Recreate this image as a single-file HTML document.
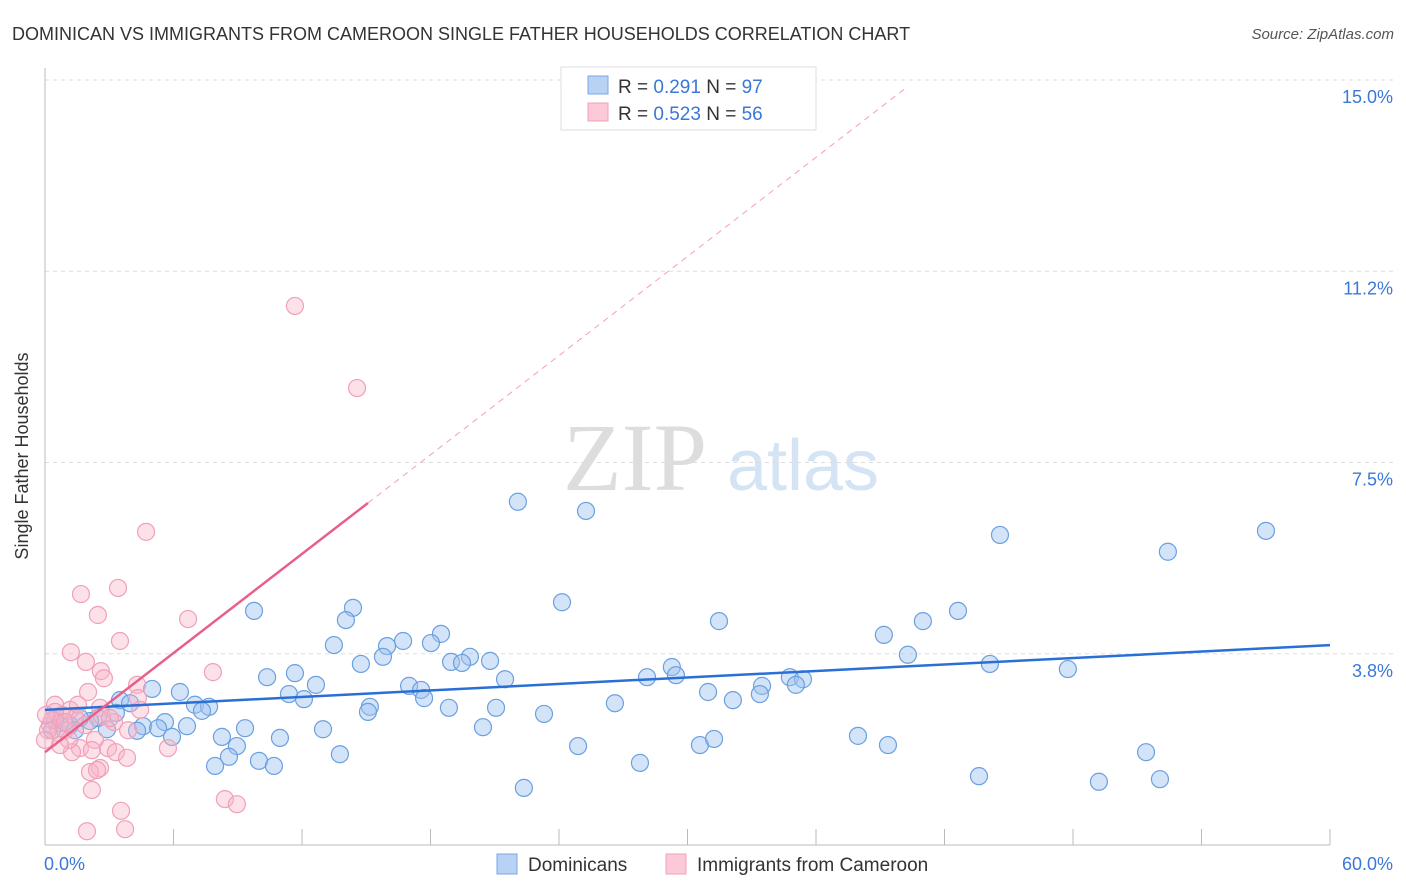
<!DOCTYPE html>
<html><head><meta charset="utf-8"><style>
body{margin:0;background:#fff;font-family:"Liberation Sans",sans-serif;}
</style></head><body>
<svg id="c" width="1406" height="892" xmlns="http://www.w3.org/2000/svg" style="display:block">
<text x="12" y="40" font-size="18" fill="#333">DOMINICAN VS IMMIGRANTS FROM CAMEROON SINGLE FATHER HOUSEHOLDS CORRELATION CHART</text>
<text x="1394" y="39" font-size="15" fill="#555" font-style="italic" text-anchor="end">Source: ZipAtlas.com</text>
<g><text x="635" y="490" font-size="96" fill="#ddd" text-anchor="middle" font-family="Liberation Serif,serif">ZIP</text><text x="803" y="490" font-size="72" fill="#d5e4f5" text-anchor="middle">atlas</text></g>
<g id="grid"></g><g id="pts"></g><g id="trend"></g>
<text x="28" y="456" font-size="18" fill="#333" text-anchor="middle" transform="rotate(-90 28 456)">Single Father Households</text>
<g>
<rect x="561" y="67" width="255" height="63" fill="#fff" stroke="#ddd"/>
<rect x="588" y="76" width="20" height="18" fill="#b8d2f5" stroke="#7aa7e3"/>
<rect x="588" y="103" width="20" height="18" fill="#fbc9d7" stroke="#f0a0b8"/>
<text x="618" y="93" font-size="19" fill="#333">R = <tspan fill="#3a78d8">0.291</tspan>   N = <tspan fill="#3a78d8">97</tspan></text>
<text x="618" y="120" font-size="19" fill="#333">R = <tspan fill="#3a78d8">0.523</tspan>   N = <tspan fill="#3a78d8">56</tspan></text>
</g>
<g>
<rect x="497" y="854" width="20" height="20" fill="#b8d2f5" stroke="#7aa7e3"/>
<text x="528" y="871" font-size="19" fill="#333">Dominicans</text>
<rect x="666" y="854" width="20" height="20" fill="#fbc9d7" stroke="#f0a0b8"/>
<text x="697" y="871" font-size="19" fill="#333">Immigrants from Cameroon</text>
</g>
</svg>
<script>
const yTicks=[3.75,7.5,11.25,15];
const yTickLabels=["3.8%","7.5%","11.2%","15.0%"];
const xMin=0,xMax=60,yMin=0,yMax=15;
const blueX=[22.08,25.26,44.59,57.01,52.43,24.14,9.76,14.38,14.05,31.47,40.99,42.63,39.17,18.49,16.72,15.97,13.49,18.02,40.29,19.84,15.78,18.96,19.47,20.78,14.75,29.27,29.46,44.12,47.76,34.78,35.39,35.06,33.48,28.11,21.48,10.37,11.67,12.65,17.00,17.56,17.70,5.00,6.30,11.39,12.09,30.96,33.38,32.12,26.61,18.86,21.06,23.30,15.17,15.08,7.00,7.66,7.33,3.50,3.97,3.31,2.47,2.10,4.58,5.60,5.28,6.63,9.34,12.98,20.45,4.30,2.89,5.93,8.26,8.96,10.97,24.89,30.58,31.24,37.96,39.36,13.77,51.41,8.59,9.99,7.94,10.69,27.78,43.61,49.21,52.06,22.36,0.70,0.33,1.17,0.47,1.63,1.40];
const blueY=[6.73,6.55,6.08,6.16,5.75,4.76,4.59,4.65,4.41,4.39,4.39,4.59,4.12,4.14,4.00,3.90,3.92,3.96,3.73,3.69,3.69,3.59,3.57,3.61,3.55,3.49,3.33,3.55,3.45,3.29,3.25,3.14,3.12,3.29,3.25,3.29,3.37,3.14,3.12,3.04,2.88,3.06,3.00,2.96,2.86,3.00,2.96,2.84,2.78,2.69,2.69,2.57,2.71,2.61,2.75,2.71,2.63,2.84,2.78,2.59,2.49,2.43,2.33,2.41,2.29,2.33,2.29,2.27,2.31,2.24,2.27,2.12,2.12,1.94,2.10,1.94,1.96,2.08,2.14,1.96,1.78,1.82,1.73,1.65,1.55,1.55,1.61,1.35,1.24,1.29,1.12,2.39,2.25,2.35,2.45,2.49,2.25];
const pinkX=[11.67,14.57,4.72,3.41,1.68,2.47,3.50,6.68,1.21,1.91,2.61,2.75,7.84,4.30,2.01,4.34,0.47,1.17,2.57,3.22,4.44,3.88,0.79,1.40,0.23,0.61,0.93,1.87,2.33,1.63,1.26,1.12,2.94,3.31,3.83,5.74,2.57,2.10,2.43,8.40,8.96,3.55,3.74,1.96,2.19,0.47,0.33,0.14,0.70,0.00,1.54,2.66,3.03,0.93,2.19,0.05];
const pinkY=[10.57,8.96,6.14,5.04,4.92,4.51,4.00,4.43,3.78,3.59,3.41,3.27,3.39,3.14,3.00,2.88,2.75,2.65,2.69,2.41,2.65,2.25,2.55,2.49,2.35,2.20,2.25,2.35,2.06,1.90,1.82,2.06,1.90,1.82,1.71,1.90,1.51,1.43,1.47,0.90,0.80,0.67,0.31,0.27,1.08,2.61,2.45,2.25,1.96,2.06,2.75,2.53,2.49,2.41,1.86,2.55];
const blueTrend=[2.65,3.92];
const pinkTrend=[1.82,0.324];
const NS="http://www.w3.org/2000/svg";
const L=45,R=1330,T=80,B=845;
function sx(v){return L+(v-xMin)/(xMax-xMin)*(R-L);}
function sy(v){return B-(v-yMin)/(yMax-yMin)*(B-T);}
function mk(tag,attrs,parent){const e=document.createElementNS(NS,tag);for(const k in attrs)e.setAttribute(k,attrs[k]);parent.appendChild(e);return e;}
const grid=document.getElementById('grid');
yTicks.forEach((t,i)=>{
 const l=mk('line',{x1:L,x2:1394,y1:sy(t),y2:sy(t),stroke:'#ddd','stroke-dasharray':'4,4'},grid);
 
 
 const tx=mk('text',{x:1393,y:sy(t)+23,'font-size':18,fill:'#3a78d8','text-anchor':'end'},grid);
 tx.textContent=yTickLabels[i];
 
 
});
const ax=mk('line',{x1:L,x2:R,y1:B,y2:B,stroke:'#bbb'},grid);


const ay=mk('line',{x1:L,x2:L,y1:68,y2:B,stroke:'#bbb'},grid);


for(let v=0;v<=60;v+=6){
 const tk=mk('line',{x1:sx(v),x2:sx(v),y1:B,y2:B-16,stroke:'#bbb'},grid);
 
 
}
const xl=mk('text',{x:44,y:870,'font-size':18,fill:'#3a78d8'},grid);xl.textContent='0.0%';


const xr=mk('text',{x:1393,y:870,'font-size':18,fill:'#3a78d8','text-anchor':'end'},grid);xr.textContent='60.0%';


const pts=document.getElementById('pts');
blueX.forEach((x,i)=>{
 const c=mk('circle',{cx:sx(x),cy:sy(blueY[i]),r:8.5,fill:'rgba(160,195,240,0.45)',stroke:'#6a9fe0','stroke-width':1.2},pts);
 
 
});
pinkX.forEach((x,i)=>{
 const c=mk('circle',{cx:sx(x),cy:sy(pinkY[i]),r:8.5,fill:'rgba(248,180,200,0.4)',stroke:'#f0a0b8','stroke-width':1.2},pts);
 
 
});
const tr=document.getElementById('trend');
const bl=mk('line',{x1:sx(0),y1:sy(blueTrend[0]),x2:sx(60),y2:sy(blueTrend[1]),stroke:'#2a6fd6','stroke-width':2.5},tr);


const pEnd=15.08,pDash=40.15;
const pl=mk('line',{x1:sx(0),y1:sy(pinkTrend[0]),x2:sx(pEnd),y2:sy(pinkTrend[0]+pinkTrend[1]*pEnd),stroke:'#e8608a','stroke-width':2.5},tr);


const pd=mk('line',{x1:sx(pEnd),y1:sy(pinkTrend[0]+pinkTrend[1]*pEnd),x2:sx(pDash),y2:sy(pinkTrend[0]+pinkTrend[1]*pDash),stroke:'#f0a0b8','stroke-width':1,'stroke-dasharray':'6,5'},tr);


</script>
</body></html>
